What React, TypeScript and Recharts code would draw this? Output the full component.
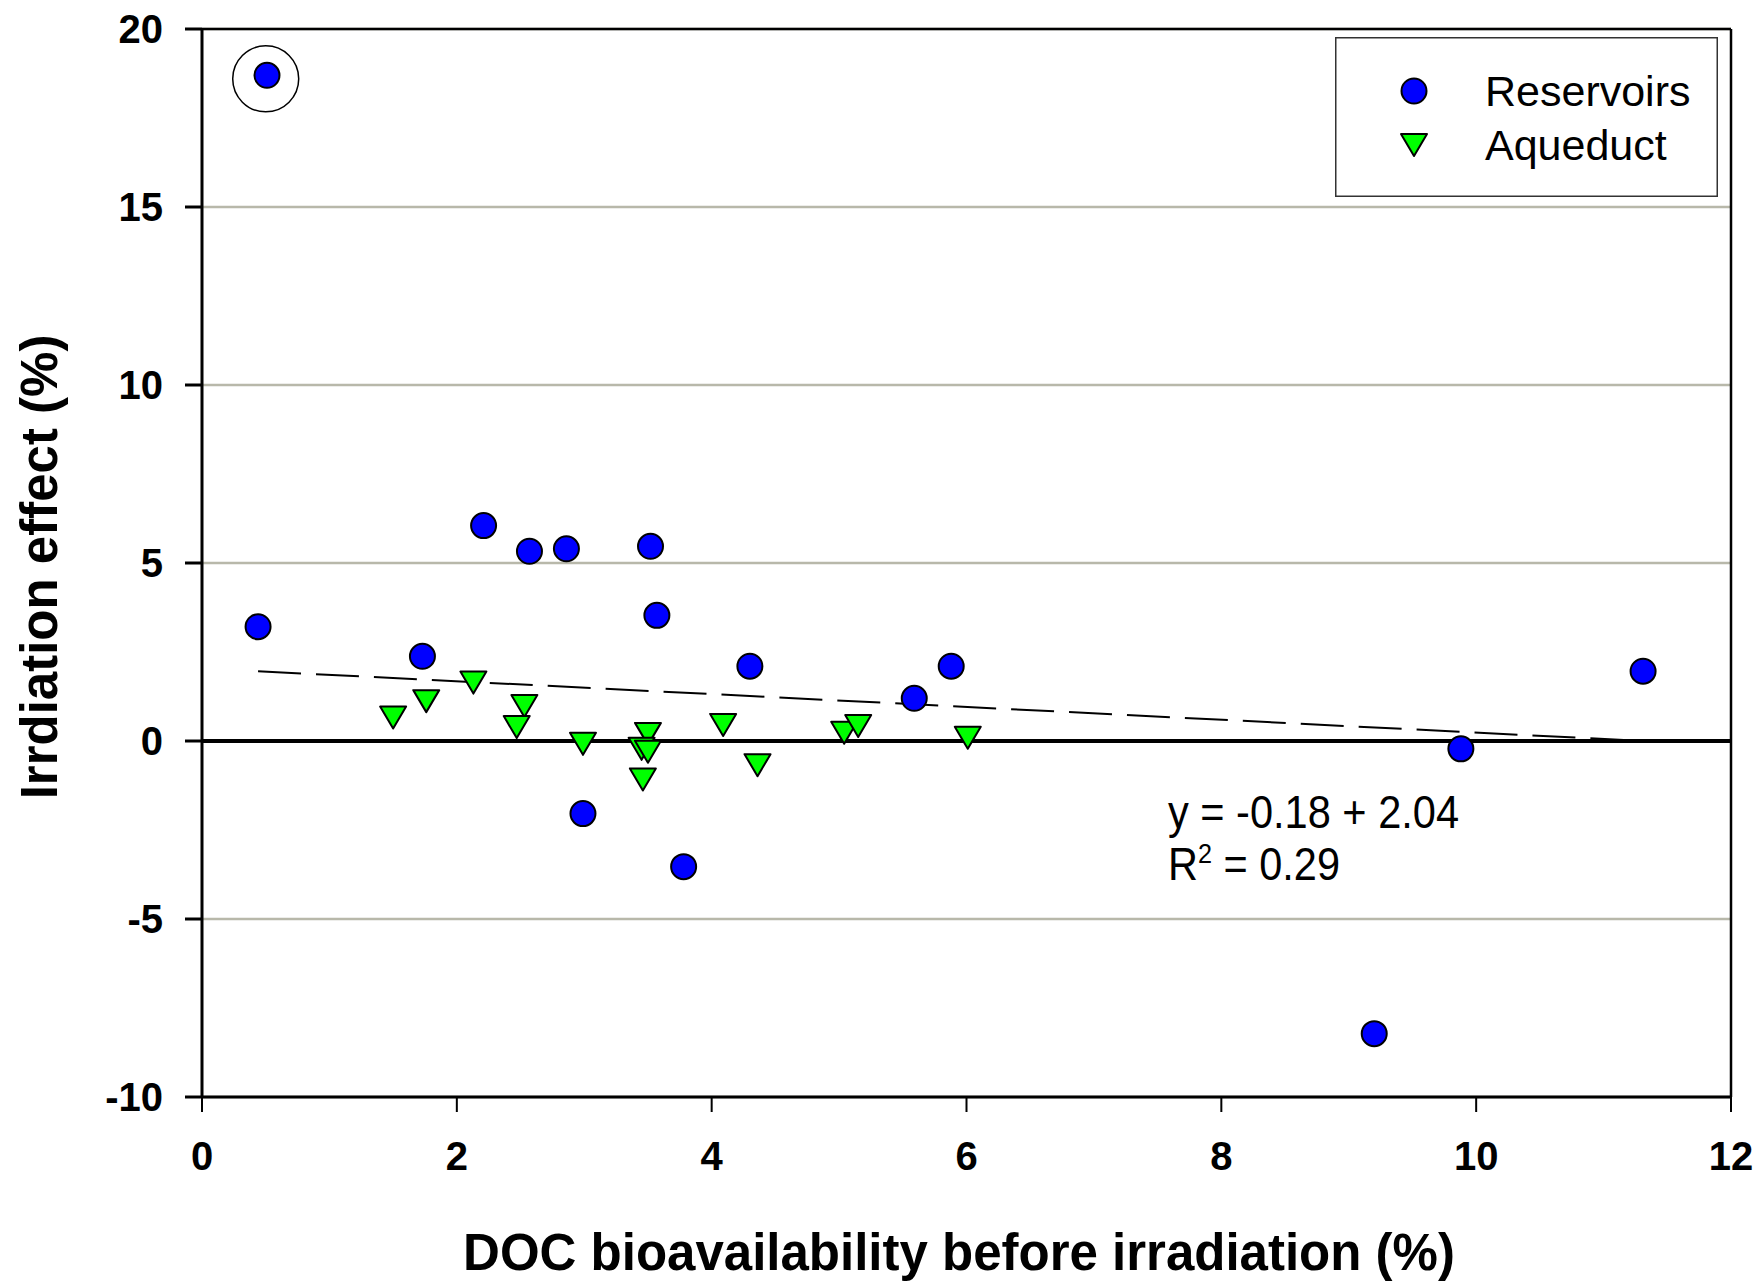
import React from 'react';
import {
  ScatterChart,
  Scatter,
  XAxis,
  YAxis,
  CartesianGrid,
  ReferenceLine,
  ReferenceDot,
} from 'recharts';

// values
const reservoirX = [0.51, 0.44, 1.73, 2.21, 2.57, 2.86, 3.52, 3.57, 4.3, 2.99, 3.78, 5.59, 5.88, 9.88, 11.31, 9.2];
const reservoirY = [18.7, 3.21, 2.38, 6.05, 5.33, 5.4, 5.47, 3.53, 2.1, -2.04, -3.53, 1.2, 2.1, -0.22, 1.96, -8.22];

const aqueductX = [1.5, 1.76, 2.13, 2.53, 2.47, 2.99, 3.5, 3.45, 3.5, 3.46, 4.09, 4.36, 5.04, 5.15, 6.01];
const aqueductY = [0.66, 1.12, 1.64, 0.98, 0.39, -0.08, 0.2, -0.22, -0.3, -1.08, 0.45, -0.68, 0.23, 0.42, 0.09];

// ends of the dashed fit line
const trendX = [0.44, 11.31];
const trendY = [1.96, 0.0];

const xTicks = [0, 2, 4, 6, 8, 10, 12];
const yTicks = [-10, -5, 0, 5, 10, 15, 20];

const reservoirs = reservoirX.map((x, i) => ({ x, y: reservoirY[i] }));
const aqueduct = aqueductX.map((x, i) => ({ x, y: aqueductY[i] }));
const trend = trendX.map((x, i) => ({ x, y: trendY[i] }));

const FONT = '"Liberation Sans", Arial, sans-serif';

const Circle = (props: any) => (
  <circle cx={props.cx} cy={props.cy} r={12.5} fill="#0000ff" stroke="#000" strokeWidth={2} />
);

const TriDown = (props: any) => {
  const { cx, cy } = props;
  return (
    <polygon
      points={`${cx - 13},${cy - 11} ${cx + 13},${cy - 11} ${cx},${cy + 11}`}
      fill="#00ff00"
      stroke="#000"
      strokeWidth={2}
      strokeLinejoin="round"
    />
  );
};

// legend box drawn in the svg so it takes no room from the plot
const LegendBox = () => (
  <g transform="translate(1335 37)">
    <rect x={0.75} y={0.75} width={381.5} height={158.5} fill="#fff" stroke="#333" strokeWidth={1.5} />
    <circle cx={79} cy={54} r={12.5} fill="#0000ff" stroke="#000" strokeWidth={2} />
    <polygon points="66,97 92,97 79,119" fill="#00ff00" stroke="#000" strokeWidth={2} strokeLinejoin="round" />
    <text x={150} y={54} dy="0.36em" fontSize={43} fontFamily={FONT} fill="#000">Reservoirs</text>
    <text x={150} y={108} dy="0.36em" fontSize={43} fontFamily={FONT} fill="#000">Aqueduct</text>
  </g>
);

export default function App() {
  return (
    <div style={{ position: 'absolute', left: 0, top: 0, background: '#fff' }}>
      <ScatterChart width={1757} height={1281} margin={{ top: 29, right: 26, left: 52, bottom: 0 }}>
        <CartesianGrid horizontal vertical={false} stroke="#b8b8aa" strokeWidth={2.5} />
        <XAxis
          type="number"
          dataKey="x"
          domain={[0, 12]}
          ticks={xTicks}
          height={184}
          tickSize={15}
          tickMargin={30}
          axisLine={{ stroke: '#000', strokeWidth: 3 }}
          tickLine={{ stroke: '#000', strokeWidth: 2 }}
          tick={{ fill: '#000', fontSize: 40, fontWeight: 'bold', fontFamily: FONT }}
        />
        <YAxis
          type="number"
          dataKey="y"
          domain={[-10, 20]}
          ticks={yTicks}
          width={150}
          tickSize={17}
          tickMargin={22}
          axisLine={{ stroke: '#000', strokeWidth: 3 }}
          tickLine={{ stroke: '#000', strokeWidth: 3 }}
          tick={{ fill: '#000', fontSize: 40, fontWeight: 'bold', fontFamily: FONT }}
        />
        <ReferenceLine y={20} stroke="#000" strokeWidth={2.5} />
        <ReferenceLine x={12} stroke="#000" strokeWidth={2.5} />
        <ReferenceLine y={0} stroke="#000" strokeWidth={4} />
        <Scatter
          name="trend"
          data={trend}
          line={{ stroke: '#000', strokeWidth: 2, strokeDasharray: '43 15' }}
          shape={() => null}
          legendType="none"
          isAnimationActive={false}
        />
        <Scatter name="Reservoirs" data={reservoirs} shape={Circle} isAnimationActive={false} />
        <Scatter name="Aqueduct" data={aqueduct} shape={TriDown} isAnimationActive={false} />
        <ReferenceDot x={0.5} y={18.6} r={33} fill="none" stroke="#000" strokeWidth={1.5} />
        <LegendBox />
        <text
          x={1168}
          y={811}
          dy="0.36em"
          fontSize={46}
          fontFamily={FONT}
          fill="#000"
          textLength={291}
          lengthAdjust="spacingAndGlyphs"
        >
          y = -0.18 + 2.04
        </text>
        <text
          x={1168}
          y={863}
          dy="0.36em"
          fontSize={46}
          fontFamily={FONT}
          fill="#000"
          textLength={172}
          lengthAdjust="spacingAndGlyphs"
        >
          R<tspan dy="-17" fontSize={28}>2</tspan>
          <tspan dy="17"> = 0.29</tspan>
        </text>
        <text
          x={959}
          y={1252}
          dy="0.36em"
          textAnchor="middle"
          fontSize={51}
          fontWeight="bold"
          fontFamily={FONT}
          fill="#000"
        >
          DOC bioavailability before irradiation (%)
        </text>
        <text
          x={39}
          y={567}
          dy="0.36em"
          textAnchor="middle"
          transform="rotate(-90 39 567)"
          fontSize={51}
          fontWeight="bold"
          fontFamily={FONT}
          fill="#000"
        >
          Irrdiation effect (%)
        </text>
      </ScatterChart>
    </div>
  );
}
